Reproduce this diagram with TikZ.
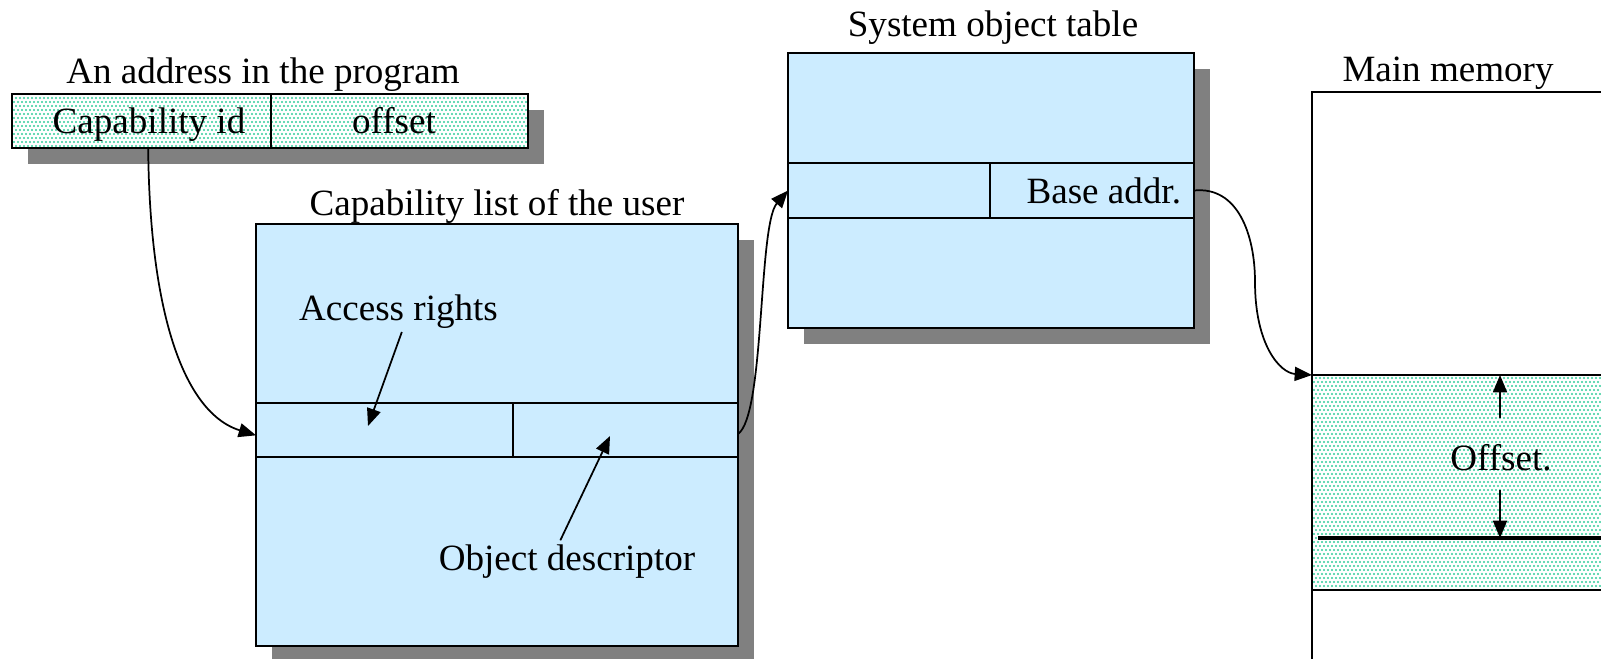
\documentclass[tikz,border=0pt]{standalone}
\usepackage{fontspec}
\setmainfont{Liberation Serif}
\usetikzlibrary{arrows.meta,shadows,patterns}
\pgfdeclarepatternformonly{sdots}{\pgfqpoint{-1pt}{-1pt}}{\pgfqpoint{4pt}{7pt}}{\pgfqpoint{3pt}{6pt}}{%
  \pgfpathcircle{\pgfqpoint{0pt}{0pt}}{.8pt}%
  \pgfpathcircle{\pgfqpoint{1.5pt}{3pt}}{.8pt}%
  \pgfusepath{fill}}
\definecolor{boxblue}{HTML}{CCECFF}
\definecolor{shgray}{HTML}{808080}
\definecolor{dotc}{RGB}{50,205,155}
\begin{document}
\begin{tikzpicture}[x=0.75pt,y=-0.75pt,
  every node/.style={font=\fontsize{27.8}{33}\selectfont, inner sep=0pt, outer sep=0pt},
  shbox/.style={draw=black, line width=1.6pt,
    drop shadow={shadow xshift=12pt,shadow yshift=-12pt,fill=shgray,opacity=1}},
  bluebox/.style={shbox, fill=boxblue},
  dotbox/.style={preaction={fill=white}, pattern=sdots, pattern color=dotc},
  cellline/.style={draw=black, line width=1.6pt},
  lbl/.style={anchor=base},
  conn/.style={line width=1.3pt, -{Triangle[length=13pt,width=10.5pt]}},
]
\path[use as bounding box] (0,0) rectangle (1601,658);
\clip (0,0) rectangle (1601,658);

% ---- address in the program
\node[lbl] (t1) at (263,83) {An address in the program};
\node[shbox, dotbox, minimum width=387pt, minimum height=40.5pt] (addr) at (270,121) {};
\node[minimum width=194.25pt, minimum height=40.5pt] (capid) at (141.5,121) {};
\node[minimum width=192.75pt, minimum height=40.5pt] (offs) at (399.5,121) {};
\draw[cellline] (capid.north east) -- (capid.south east);
\node[lbl] (capidt) at (149,133) {Capability id};
\node[lbl] (offst) at (394,133) {offset};

% ---- capability list
\node[lbl] (t2) at (497,215) {Capability list of the user};
\node[bluebox, minimum width=361.5pt, minimum height=316.5pt] (cap) at (497,435) {};
\node[cellline, minimum width=361.5pt, minimum height=40.5pt] (caprow) at (497,430) {};
\node[minimum width=192.75pt, minimum height=40.5pt] (arcell) at (384.5,430) {};
\draw[cellline] (arcell.north east) -- (arcell.south east);
\node[lbl] (arl) at (398.5,320) {Access rights};
\node[lbl] (odl) at (567,570) {Object descriptor};
\coordinate (artip) at (368,426);
\coordinate (odtip) at (610,436);
\draw[conn] ([xshift=2.5pt,yshift=-3pt]arl.south) -- (artip);
\draw[conn] ([xshift=-5pt,yshift=3pt]odl.north) -- (odtip);

% ---- system object table
\node[lbl] (t3) at (993,36) {System object table};
\node[bluebox, minimum width=304.5pt, minimum height=206.25pt] (sot) at (991,190.5) {};
\node[cellline, minimum width=304.5pt, minimum height=41.25pt] (sotrow) at (991,190.5) {};
\node[minimum width=151.5pt, minimum height=41.25pt] (sotleft) at (889,190.5) {};
\draw[cellline] (sotleft.north east) -- (sotleft.south east);
\node[lbl, anchor=base east] (basel) at (1181,203) {Base addr.};

% ---- main memory
\node[lbl] (t4) at (1448,81) {Main memory};
\node[draw=black, line width=1.3pt, fill=white, minimum width=306pt, minimum height=501pt] (mm) at (1516,426) {};
\node[draw=black, line width=1.6pt, dotbox, minimum width=306pt, minimum height=161.25pt] (mmseg) at (1516,482.5) {};
\coordinate (mline) at (1318,538);
\draw[line width=2.6pt] (mline) -- (mline -| mmseg.east);
\node[lbl] (offl) at (1501,470) {Offset.};
\coordinate (oup) at (1500,418);
\coordinate (odn) at (1500,490);
\draw[conn] (oup) -- (oup |- mmseg.north);
\draw[conn] (odn) -- (odn |- mline);

% ---- connectors
\draw[conn] ([xshift=5pt]capid.south) .. controls (150,330) and (190,415) .. ([yshift=-4pt]caprow.west);
\draw[conn] ([yshift=-3pt]caprow.east) .. controls (765,415) and (758,225) .. (sotrow.west);
\draw[conn] (sotrow.east) .. controls (1238,186) and (1255,235) .. (1255,282)
  .. controls (1255,345) and (1280,373) .. (mmseg.north west);
\end{tikzpicture}
\end{document}
